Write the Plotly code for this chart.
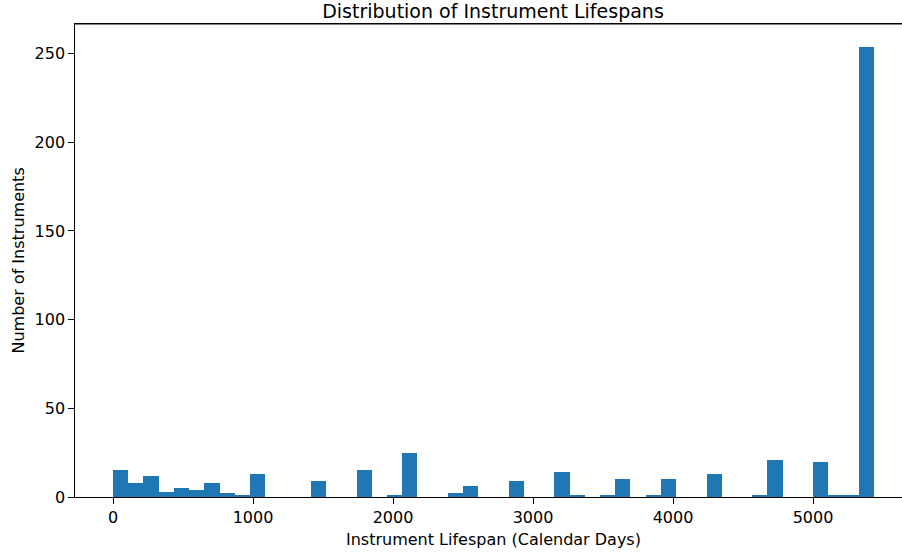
import plotly.graph_objects as go

# Histogram data (50 equal-width bins)
min_days = 0.0
max_days = 5435.0
counts = [15, 8, 12, 3, 5, 4, 8, 2, 1, 13,
          0, 0, 0, 9, 0, 0, 15, 0, 1, 25,
          0, 0, 2, 6, 0, 0, 9, 0, 0, 14,
          1, 0, 1, 10, 0, 1, 10, 0, 0, 13,
          0, 0, 1, 21, 0, 0, 20, 1, 1, 254]
x_ticks = [0, 1000, 2000, 3000, 4000, 5000]
y_ticks = [0, 50, 100, 150, 200, 250]

n_bins = len(counts)
bw = (max_days - min_days) / n_bins
centers = [min_days + bw * (i + 0.5) for i in range(n_bins)]

fig = go.Figure(go.Bar(
    x=centers, y=counts, width=[bw] * n_bins,
    marker=dict(color="#1f77b4", line=dict(width=0)),
    hoverinfo="x+y",
))

W, H = 902, 554
L, R, T, B = 75, 0, 24, 57
font = "DejaVu Sans, sans-serif"
FS = 16
span = max_days - min_days
x0 = min_days - 0.05 * span
# visible range: right edge of the axes is cut at the image border
x1 = x0 + (max_days + 0.05 * span - x0) * (W - L) / (912 - L)

fig.update_layout(
    width=W, height=H,
    margin=dict(l=L, r=R, t=T, b=B),
    plot_bgcolor="white", paper_bgcolor="white",
    font=dict(family=font, size=FS, color="black"),
    showlegend=False,
    bargap=0,
    title=dict(text="Distribution of Instrument Lifespans",
               x=493 / W, xanchor="center", xref="container",
               y=1 - 11 / H, yanchor="middle", yref="container",
               font=dict(size=19, family=font, color="black")),
    xaxis=dict(range=[x0, x1], tickvals=x_ticks, ticks="outside", ticklen=5.6,
               tickwidth=1.2, tickcolor="black", showline=True, linecolor="black",
               linewidth=1.2, mirror=True, showgrid=False, zeroline=False,
               tickfont=dict(size=FS, family=font, color="black")),
    yaxis=dict(range=[0, max(counts) * 1.05], tickvals=y_ticks, ticks="outside",
               ticklen=5.6, tickwidth=1.2, tickcolor="black", showline=True,
               linecolor="black", linewidth=1.2, showgrid=False, zeroline=False,
               tickfont=dict(size=FS, family=font, color="black")),
    shapes=[dict(type="line", xref="paper", yref="paper", x0=0, x1=1, y0=1, y1=1,
                 line=dict(color="black", width=1.2), layer="above")],
    annotations=[
        dict(text="Instrument Lifespan (Calendar Days)", xref="paper", yref="paper",
             x=(493 - L) / (W - L), y=(497 - 539) / (H - T - B),
             xanchor="center", yanchor="middle", showarrow=False,
             font=dict(size=FS, family=font, color="black")),
        dict(text="Number of Instruments", xref="paper", yref="paper",
             x=(18 - L) / (W - L), y=0.5, textangle=-90,
             xanchor="center", yanchor="middle", showarrow=False,
             font=dict(size=FS, family=font, color="black")),
    ],
)

fig.write_html("out.html", config={"displayModeBar": False},
               post_script="document.body.style.margin='0';document.body.style.overflow='hidden';")
